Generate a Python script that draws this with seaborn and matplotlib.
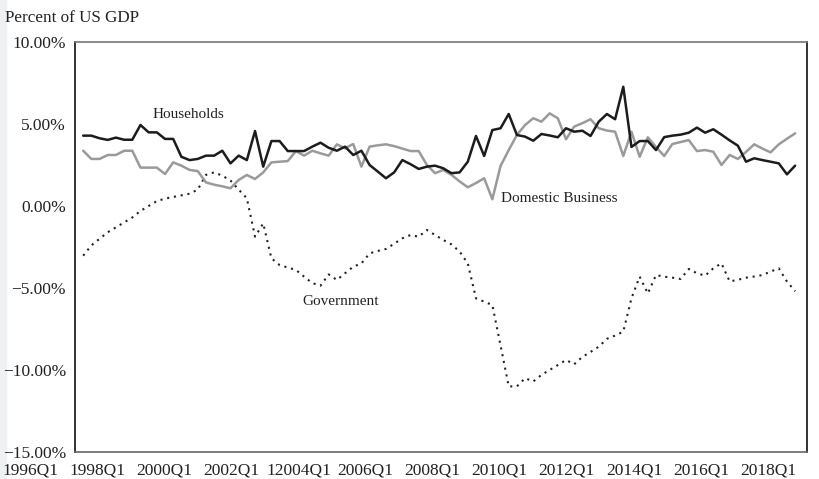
import numpy as np
import pandas as pd
import matplotlib
matplotlib.use("Agg")
import matplotlib.pyplot as plt
import seaborn as sns

# quarterly values, percent of US GDP
households = [4.29, 4.29, 4.13, 4.03, 4.17, 4.04, 4.04, 4.94, 4.49, 4.49,
              4.09, 4.09, 3.0, 2.8, 2.87, 3.07, 3.07, 3.37, 2.6, 3.07,
              2.8, 4.57, 2.4, 3.96, 3.96, 3.35, 3.35, 3.35, 3.62, 3.86,
              3.55, 3.37, 3.62, 3.11, 3.37, 2.5, 2.1, 1.69, 2.05, 2.8,
              2.55, 2.26, 2.4, 2.46, 2.3, 2.0, 2.05, 2.7, 4.27, 3.05,
              4.63, 4.74, 5.61, 4.33, 4.23, 3.98, 4.39, 4.3, 4.19, 4.74,
              4.53, 4.59, 4.27, 5.14, 5.61, 5.29, 7.27, 3.6, 3.96, 3.96,
              3.41, 4.2, 4.29, 4.35, 4.47, 4.78, 4.47, 4.68, 4.35, 4.0,
              3.68, 2.7, 2.91, 2.8, 2.7, 2.6, 1.93, 2.46]
business = [3.37, 2.87, 2.87, 3.11, 3.11, 3.37, 3.37, 2.34, 2.34, 2.34,
            1.95, 2.66, 2.46, 2.2, 2.13, 1.44, 1.3, 1.2, 1.08, 1.59,
            1.89, 1.65, 2.05, 2.66, 2.7, 2.74, 3.35, 3.07, 3.37, 3.21,
            3.07, 3.76, 3.52, 3.78, 2.4, 3.62, 3.7, 3.76, 3.65, 3.5,
            3.35, 3.35, 2.5, 2.0, 2.2, 1.9, 1.5, 1.14, 1.4, 1.69,
            0.41, 2.44, 3.41, 4.33, 4.94, 5.35, 5.14, 5.65, 5.35, 4.07,
            4.84, 5.05, 5.29, 4.74, 4.6, 4.53, 3.05, 4.53, 3.0, 4.19,
            3.6, 3.05, 3.78, 3.9, 4.02, 3.35, 3.41, 3.31, 2.5, 3.11,
            2.87, 3.3, 3.76, 3.5, 3.27, 3.76, 4.1, 4.43]
government = [-3.03, -2.4, -2.0, -1.6, -1.3, -1.0, -0.7, -0.3, 0.0, 0.3,
              0.45, 0.55, 0.65, 0.75, 1.0, 1.9, 2.05, 1.85, 1.55, 1.0,
              0.47, -1.87, -1.06, -3.19, -3.6, -3.75, -3.9, -4.31, -4.7, -4.86,
              -4.17, -4.51, -4.1, -3.7, -3.5, -2.89, -2.74, -2.62, -2.3, -1.97,
              -1.77, -1.87, -1.46, -1.77, -2.07, -2.34, -2.78, -3.5, -5.63, -5.83,
              -6.04, -8.5, -11.0, -11.0, -10.5, -10.7, -10.3, -10.0, -9.7, -9.39,
              -9.65, -9.2, -8.9, -8.58, -8.1, -7.9, -7.66, -5.63, -4.31, -5.33,
              -4.21, -4.31, -4.37, -4.45, -3.84, -4.1, -4.25, -3.8, -3.5, -4.6,
              -4.5, -4.37, -4.3, -4.21, -4.0, -3.8, -4.6, -5.2]
tick_labels = ["1996Q1", "1998Q1", "2000Q1", "2002Q1", "12004Q1", "2006Q1",
               "2008Q1", "2010Q1", "2012Q1", "2014Q1", "2016Q1", "2018Q1"]
y_ticks = [10, 5, 0, -5, -10, -15]

df = pd.DataFrame({"q": np.arange(len(households)),
                   "Households": households,
                   "Domestic Business": business,
                   "Government": government})

sns.set_style("white")
plt.rcParams["font.family"] = ["Liberation Serif", "DejaVu Serif"]
plt.rcParams["font.size"] = 11

fig = plt.figure(figsize=(8.2, 4.79), dpi=100)
fig.patches.append(plt.Rectangle((0, 0), 6 / 820, 1, transform=fig.transFigure,
                                 color="#eef0f2", zorder=-1))
ax = fig.add_axes([75 / 820, 1 - 452 / 479, 732 / 820, 410 / 479])

sns.lineplot(data=df, x="q", y="Government", ax=ax, color="#222222",
             linewidth=1.5)
ax.lines[-1].set_linestyle((0, (1, 2.3)))
sns.lineplot(data=df, x="q", y="Domestic Business", ax=ax, color="#9a9a9a",
             linewidth=1.8)
sns.lineplot(data=df, x="q", y="Households", ax=ax, color="#1c1c1c",
             linewidth=1.8)

ax.set_xlim(-1.0, len(households) - 1 + 1.45)
ax.set_ylim(-15, 10)
ax.set_yticks(y_ticks)
ax.set_yticklabels([f"{v:.2f}%".replace("-", "\u2212") for v in y_ticks])
ax.tick_params(axis="y", length=0, pad=6.5, labelcolor="#222222", labelsize=12.5)
ax.set_xticks([])
ax.set_xlabel(None)
ax.set_ylabel(None)

for name, sp in ax.spines.items():
    sp.set_visible(True)
    sp.set_linewidth(1.2)
ax.spines["left"].set_color("#111111")
ax.spines["right"].set_color("#111111")
ax.spines["top"].set_color("#777777")
ax.spines["bottom"].set_color("#666666")

# category labels sit under the plot, spaced every 8 quarters
label_pos = -6.5 + 8.2 * np.arange(len(tick_labels))
for xp, lab in zip(label_pos, tick_labels):
    ax.text(xp, -0.046, lab, transform=ax.get_xaxis_transform(), ha="center",
            va="center", clip_on=False, color="#222222", fontsize=12.5)

ax.text(12.8, 5.6, "Households", ha="center", va="center", color="#222222")
ax.text(51.1, 0.43, "Domestic Business", ha="left", va="center", color="#222222")
ax.text(31.4, -5.85, "Government", ha="center", va="center", color="#222222")

fig.text(5 / 820, 1 - 18 / 479, "Percent of US GDP", ha="left", va="center",
         color="#222222", fontsize=12.3)

fig.savefig("out.png", dpi=100)
